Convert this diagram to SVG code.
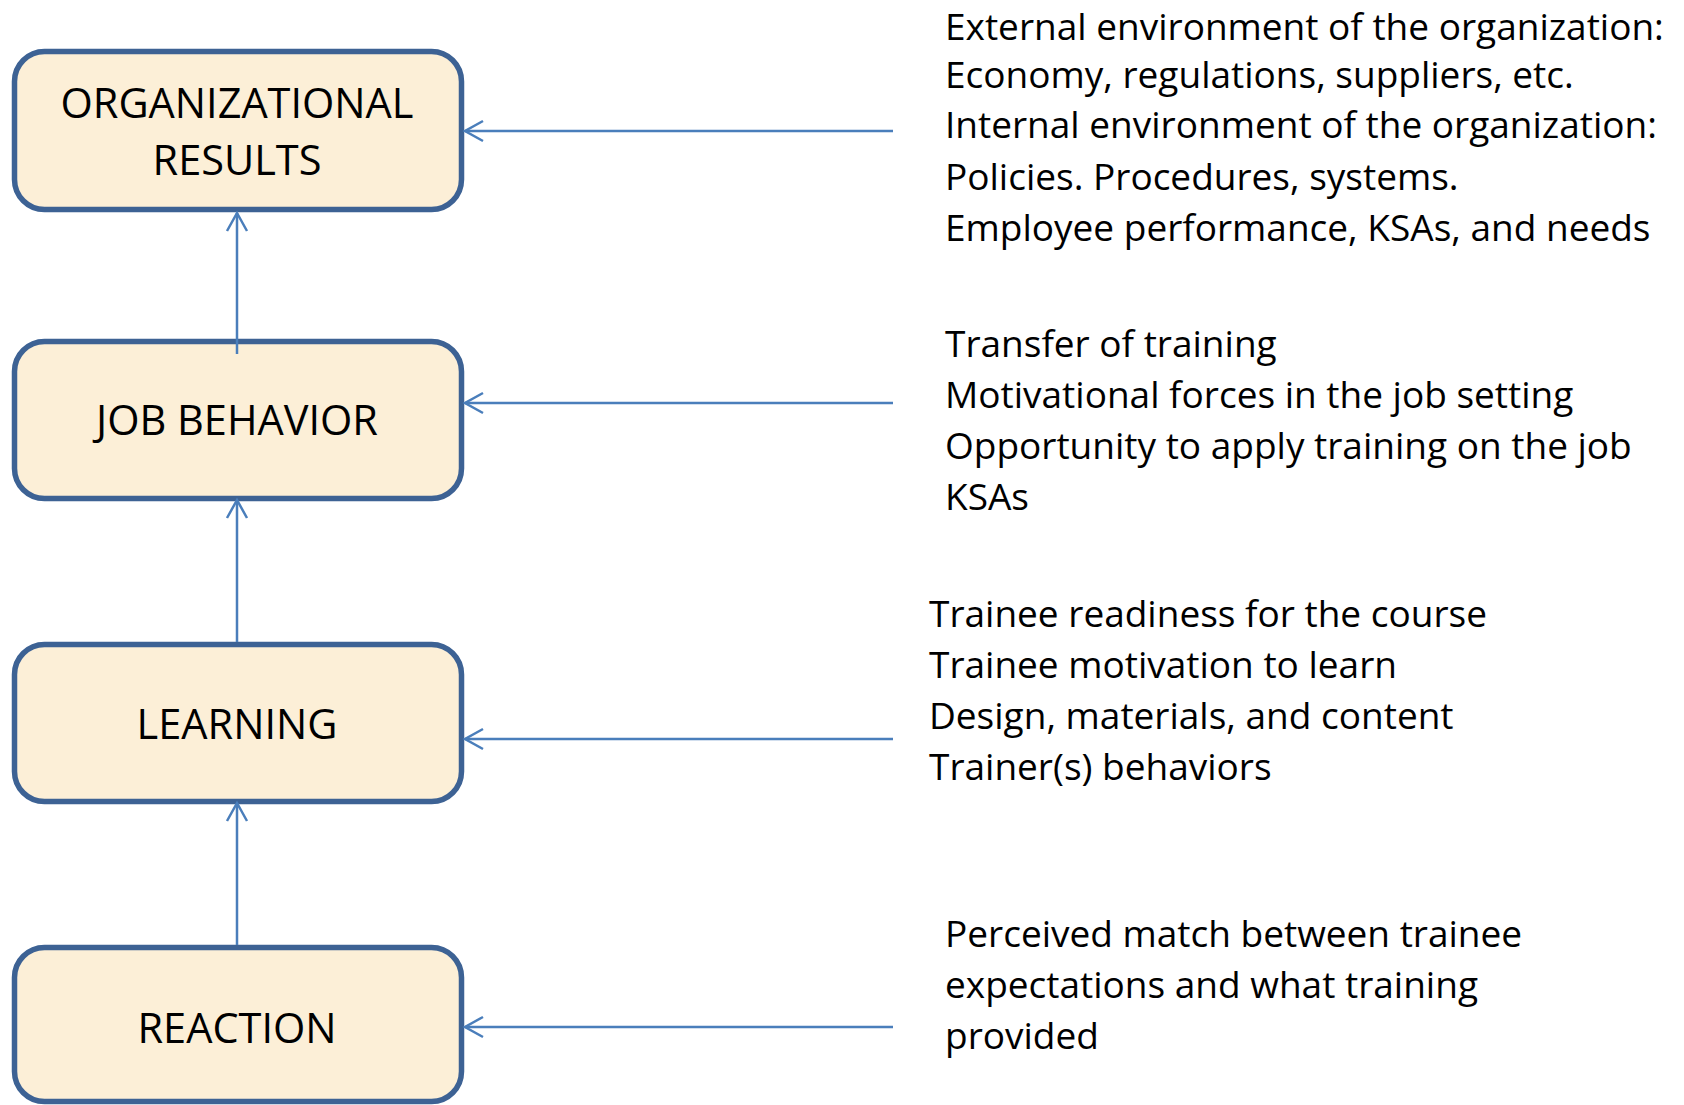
<svg xmlns="http://www.w3.org/2000/svg" width="1684" height="1105" viewBox="0 0 1684 1105">
<style>
.box{fill:#fcefd7;stroke:#3d6294;stroke-width:5.5}
.lbl{font-family:"Open Sans","Liberation Sans",sans-serif;font-size:41.5px;fill:#000;text-anchor:middle}
.txt{font-family:"Open Sans","Liberation Sans",sans-serif;font-size:37px;fill:#000}
.con{stroke:#4a7ebb;stroke-width:2.5;fill:none}
</style>
<defs>
<marker id="ah" markerUnits="userSpaceOnUse" markerWidth="24" markerHeight="24" viewBox="-20 -12 24 24" refX="0" refY="0" orient="auto">
<path d="M-18,-10 L0,0 L-18,10" fill="none" stroke="#4a7ebb" stroke-width="2.5"/>
</marker>
</defs>
<rect width="1684" height="1105" fill="#fff"/>
<g id="node-org">
<rect class="box" x="14.5" y="51.5" width="447" height="158" rx="30"/>
<text class="lbl" x="237" y="118">ORGANIZATIONAL</text>
<text class="lbl" x="237" y="175">RESULTS</text>
</g>
<g id="node-job">
<rect class="box" x="14.5" y="341.5" width="447" height="157" rx="30"/>
<text class="lbl" x="237" y="435">JOB BEHAVIOR</text>
</g>
<g id="node-learning">
<rect class="box" x="14.5" y="644.5" width="447" height="157" rx="30"/>
<text class="lbl" x="237" y="739">LEARNING</text>
</g>
<g id="node-reaction">
<rect class="box" x="14.5" y="947.5" width="447" height="154" rx="30"/>
<text class="lbl" x="237" y="1043">REACTION</text>
</g>
<g id="connectors">
<line class="con" x1="237" y1="354" x2="237" y2="213" marker-end="url(#ah)"/>
<line class="con" x1="237" y1="642" x2="237" y2="500" marker-end="url(#ah)"/>
<line class="con" x1="237" y1="945" x2="237" y2="803" marker-end="url(#ah)"/>
<line class="con" x1="893" y1="131" x2="465" y2="131" marker-end="url(#ah)"/>
<line class="con" x1="893" y1="403" x2="465" y2="403" marker-end="url(#ah)"/>
<line class="con" x1="893" y1="739" x2="465" y2="739" marker-end="url(#ah)"/>
<line class="con" x1="893" y1="1027" x2="465" y2="1027" marker-end="url(#ah)"/>
</g>
<g id="text-org">
<text class="txt" x="945" y="40">External environment of the organization:</text>
<text class="txt" x="945" y="88">Economy, regulations, suppliers, etc.</text>
<text class="txt" x="945" y="138">Internal environment of the organization:</text>
<text class="txt" x="945" y="190">Policies. Procedures, systems.</text>
<text class="txt" x="945" y="241">Employee performance, KSAs, and needs</text>
</g>
<g id="text-job">
<text class="txt" x="945" y="357">Transfer of training</text>
<text class="txt" x="945" y="408">Motivational forces in the job setting</text>
<text class="txt" x="945" y="459">Opportunity to apply training on the job</text>
<text class="txt" x="945" y="510">KSAs</text>
</g>
<g id="text-learning">
<text class="txt" x="929" y="627">Trainee readiness for the course</text>
<text class="txt" x="929" y="678">Trainee motivation to learn</text>
<text class="txt" x="929" y="729">Design, materials, and content</text>
<text class="txt" x="929" y="780">Trainer(s) behaviors</text>
</g>
<g id="text-reaction">
<text class="txt" x="945" y="947">Perceived match between trainee</text>
<text class="txt" x="945" y="998">expectations and what training</text>
<text class="txt" x="945" y="1049">provided</text>
</g>
</svg>
